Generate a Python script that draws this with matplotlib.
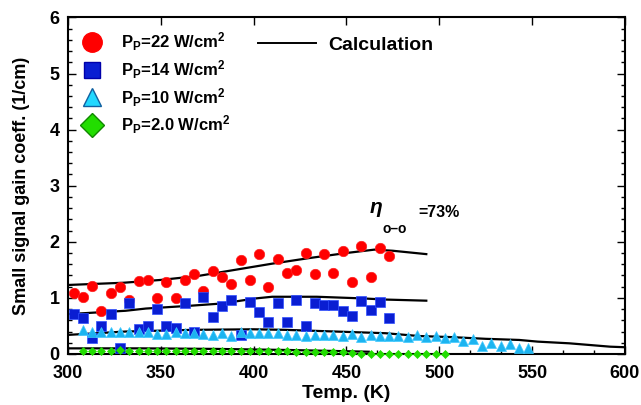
import numpy as np
import matplotlib
matplotlib.use("Agg")
import matplotlib.pyplot as plt
from matplotlib.ticker import AutoMinorLocator, MultipleLocator
from matplotlib.lines import Line2D

plt.rcParams['font.family'] = ['Liberation Sans', 'DejaVu Sans']
plt.rcParams['font.weight'] = 'bold'
plt.rcParams['mathtext.fontset'] = 'custom'
plt.rcParams['mathtext.rm'] = 'Liberation Sans:bold'
plt.rcParams['mathtext.bf'] = 'Liberation Sans:bold'
plt.rcParams['mathtext.it'] = 'Liberation Sans:italic'

# ---------------- data ----------------
t_hi = np.arange(303, 474, 5)  # 22 and 14 W/cm2 samples
g22 = [1.08, 1.02, 1.21, 0.76, 1.09, 1.20, 0.97, 1.30, 1.32, 0.99,
       1.28, 1.00, 1.31, 1.42, 1.12, 1.48, 1.37, 1.24, 1.68, 1.32,
       1.78, 1.20, 1.69, 1.44, 1.50, 1.80, 1.42, 1.78, 1.45, 1.83,
       1.28, 1.92, 1.38, 1.89, 1.74]
g14 = [0.71, 0.64, 0.28, 0.50, 0.71, 0.10, 0.90, 0.45, 0.50, 0.81,
       0.50, 0.47, 0.90, 0.40, 1.02, 0.66, 0.86, 0.96, 0.33, 0.93,
       0.75, 0.57, 0.91, 0.57, 0.97, 0.50, 0.90, 0.88, 0.87, 0.77,
       0.68, 0.95, 0.79, 0.93, 0.64]

t10 = np.arange(308, 549, 5)
g10 = [0.42, 0.40, 0.40, 0.40, 0.39, 0.39, 0.40, 0.39, 0.36, 0.36,
       0.40, 0.37, 0.38, 0.36, 0.33, 0.37, 0.32, 0.39, 0.37, 0.37,
       0.37, 0.37, 0.34, 0.33, 0.32, 0.33, 0.33, 0.34, 0.32, 0.36,
       0.31, 0.33, 0.32, 0.32, 0.32, 0.31, 0.33, 0.31, 0.32, 0.28,
       0.30, 0.24, 0.27, 0.15, 0.19, 0.14, 0.18, 0.11, 0.10]

t2 = np.arange(308, 504, 5)
g2 = [0.06, 0.06, 0.06, 0.06, 0.07, 0.06, 0.06, 0.06, 0.06, 0.06,
      0.06, 0.06, 0.06, 0.06, 0.06, 0.06, 0.06, 0.06, 0.06, 0.06,
      0.06, 0.06, 0.05, 0.04, 0.04, 0.04, 0.04, 0.04, 0.03, 0.02,
      0.00, 0.00, 0.00, 0.00, 0.00, 0.00, 0.00, 0.00, 0.00, 0.00]

# calculation curves
c22_t = [300, 330, 350, 370, 390, 410, 430, 450, 465, 475, 493]
c22_g = [1.23, 1.27, 1.32, 1.39, 1.50, 1.61, 1.71, 1.80, 1.86, 1.84, 1.78]
c14_t = [300, 331, 342, 366, 383, 401, 410, 434, 459, 471, 493]
c14_g = [0.71, 0.77, 0.81, 0.86, 0.90, 0.99, 1.02, 1.02, 0.99, 0.97, 0.95]
c10_t = [300, 331, 367, 400, 417, 435, 453, 471, 489, 507, 525, 543, 553, 570, 592, 600]
c10_g = [0.34, 0.40, 0.43, 0.44, 0.43, 0.41, 0.39, 0.37, 0.32, 0.30, 0.27, 0.25, 0.22, 0.19, 0.13, 0.12]
c2_t = [300, 340, 380, 420, 462]
c2_g = [0.10, 0.10, 0.09, 0.07, 0.04]

labels = ['P$_\\mathrm{P}$=22 W/cm$^\\mathrm{2}$',
          'P$_\\mathrm{P}$=14 W/cm$^\\mathrm{2}$',
          'P$_\\mathrm{P}$=10 W/cm$^\\mathrm{2}$',
          'P$_\\mathrm{P}$=2.0 W/cm$^\\mathrm{2}$']

# ---------------- plot ----------------
fig = plt.figure(figsize=(6.41, 4.05), dpi=100)
ax = fig.add_axes([0.106, 0.126, 0.869, 0.831])

for ct, cg in [(c22_t, c22_g), (c14_t, c14_g), (c10_t, c10_g), (c2_t, c2_g)]:
    ax.plot(ct, cg, color='black', lw=1.6, zorder=2)

ax.plot(t_hi, g22, 'o', color='#ff0000', ms=7.5, mec='#ff2020', mew=0.5, ls='none', zorder=3)
ax.plot(t_hi, g14, 's', color='#0a1ed2', ms=6.5, mec='#3050ff', mew=0.5, ls='none', zorder=3)
ax.plot(t10, g10, '^', color='#1cb4f0', ms=6.5, mec='#40c8ff', mew=0.5, ls='none', zorder=3)
ax.plot(t2, g2, 'D', color='#22dd00', ms=4.5, mec='#22dd00', mew=0.5, ls='none',
        zorder=3, clip_on=False)

ax.set_xlim(300, 600)
ax.set_ylim(0, 6)
ax.xaxis.set_major_locator(MultipleLocator(50))
ax.xaxis.set_minor_locator(AutoMinorLocator(3))
ax.yaxis.set_major_locator(MultipleLocator(1))
ax.yaxis.set_minor_locator(AutoMinorLocator(5))
ax.tick_params(which='both', direction='in', top=True, right=True, width=1)
ax.tick_params(which='major', length=6, labelsize=13)
ax.tick_params(axis='x', which='major', pad=8)
ax.tick_params(axis='y', which='major', pad=6)
ax.tick_params(which='minor', length=3)
ax.tick_params(axis='x', which='minor', top=False)
for s in ax.spines.values():
    s.set_linewidth(1.5)
for lab in ax.get_xticklabels() + ax.get_yticklabels():
    lab.set_fontweight('bold')

ax.set_xlabel('Temp. (K)', fontsize=14, fontweight='bold', labelpad=2)
ax.set_ylabel('Small signal gain coeff. (1/cm)', fontsize=13, fontweight='bold', labelpad=14)

# eta annotation
ax.text(462, 2.57, '$\\it{\\eta}$', fontsize=15, ha='left', va='center')
ax.text(469.5, 2.22, 'o\u2013o', fontsize=10, ha='left', va='center')
ax.text(489, 2.53, '=73%', fontsize=11.5, ha='left', va='center')

# legends
handles = [
    Line2D([], [], marker='o', color='#ff0000', ms=14, ls='none'),
    Line2D([], [], marker='s', color='#0a1ed2', mec='#0000aa', ms=11, ls='none'),
    Line2D([], [], marker='^', color='#22d8ff', mec='#1060a0', ms=13, ls='none'),
    Line2D([], [], marker='D', color='#22dd00', mec='#118800', ms=12, ls='none'),
]
leg1 = ax.legend(handles, labels, loc='upper left', frameon=False,
                 bbox_to_anchor=(-0.005, 0.99), labelspacing=0.3,
                 handletextpad=0.75, borderaxespad=0.2,
                 prop={'weight': 'bold', 'size': 12})
ax.add_artist(leg1)
ax.legend([Line2D([], [], color='black', lw=1.4)], ['Calculation'],
          loc='upper left', bbox_to_anchor=(0.31, 0.995), frameon=False,
          handlelength=3.0, handletextpad=0.6, prop={'weight': 'bold', 'size': 14})

fig.savefig('out.png', dpi=100)
